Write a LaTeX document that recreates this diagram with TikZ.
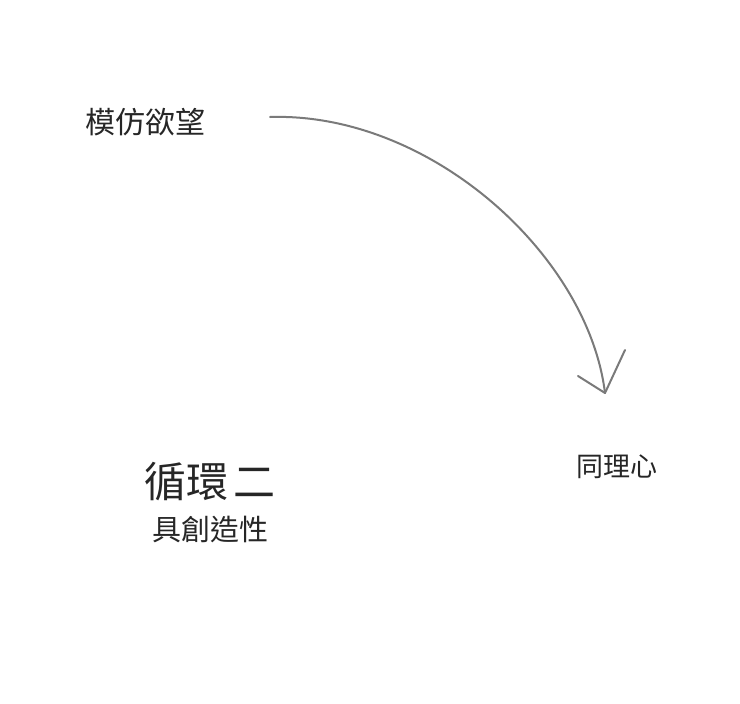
\documentclass[tikz,border=0pt]{standalone}
\usepackage{fontspec}
\newfontfamily\cjk{Noto Sans CJK TC}
\begin{document}
\begin{tikzpicture}[x=1pt,y=-1pt,
  lbl/.style={font=\cjk, text=black!85, inner sep=0pt},
  pen/.style={draw=black!52, line width=2pt, line cap=round, line join=round}]
\useasboundingbox[fill=white] (0,0) rectangle (740,704);
\node[lbl, font=\cjk\fontsize{30}{32}\selectfont] (mofang) at (145,122) {模仿欲望};
\node[lbl, font=\cjk\fontsize{27}{30}\selectfont] (tongli) at (617,467) {同理心};
\node[lbl, font=\cjk\fontsize{42}{46}\selectfont] (xunhuan) at (210,482) {循環\hspace{6pt}二};
\node[lbl, font=\cjk\fontsize{29}{32}\selectfont] (juchuang) at (210,530) {具創造性};
\coordinate (s) at (270,117);
\coordinate (t) at (605,393);
\coordinate (la) at (578,376);
\coordinate (ra) at (625,350);
\draw[pen] (s) .. controls (430,112) and (588,255) .. (t);
\draw[pen] (la) -- (t) -- (ra);
\end{tikzpicture}
\end{document}
